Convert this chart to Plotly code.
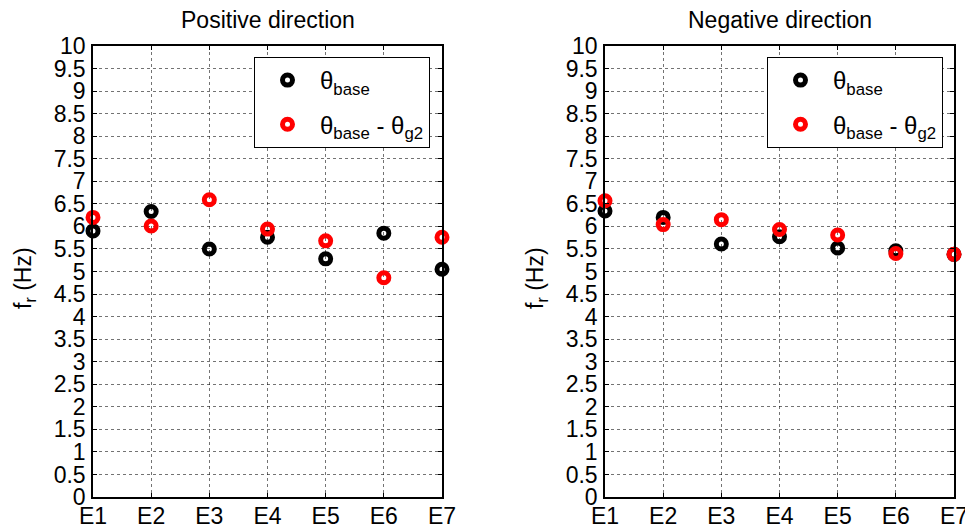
import plotly.graph_objects as go

categories = ["E1", "E2", "E3", "E4", "E5", "E6", "E7"]
cat_pos = [1, 2, 3, 4, 5, 6, 7]

# Resonance frequency f_r (Hz), positive direction
pos_base = [5.90, 6.33, 5.50, 5.76, 5.28, 5.85, 5.05]
pos_base_g2 = [6.20, 6.01, 6.59, 5.94, 5.68, 4.86, 5.76]

# Resonance frequency f_r (Hz), negative direction
neg_base = [6.34, 6.20, 5.61, 5.77, 5.52, 5.46, 5.38]
neg_base_g2 = [6.57, 6.04, 6.15, 5.93, 5.81, 5.40, 5.38]

y_ticks = [i * 0.5 for i in range(21)]
y_labels = [("%g" % v) for v in y_ticks]

FONT = "Liberation Sans, Arial, sans-serif"
FS = 23
W, H = 965, 527

fig = go.Figure()

def add_pair(base, base_g2, xa, ya, leg):
    fig.add_trace(go.Scatter(
        x=cat_pos, y=base, mode="markers", name="θ<sub>base</sub>",
        xaxis=xa, yaxis=ya, legend=leg, legendgroup=leg + "a",
        marker=dict(symbol="circle-open", size=10, color="black",
                    line=dict(width=5, color="black")),
        cliponaxis=False,
    ))
    fig.add_trace(go.Scatter(
        x=cat_pos, y=base_g2, mode="markers", name="θ<sub>base</sub> - θ<sub>g2</sub>",
        xaxis=xa, yaxis=ya, legend=leg, legendgroup=leg + "b",
        marker=dict(symbol="circle-open", size=10, color="red",
                    line=dict(width=5, color="red")),
        cliponaxis=False,
    ))

add_pair(pos_base, pos_base_g2, "x", "y", "legend")
add_pair(neg_base, neg_base_g2, "x2", "y2", "legend2")

ydom = [1 - 497 / H, 1 - 46 / H]

axis_common = dict(
    showline=True, linecolor="black", linewidth=1.5, mirror="ticks",
    ticks="inside", ticklen=4, tickcolor="black",
    showgrid=True, gridcolor="rgba(0,0,0,0.55)", gridwidth=1, griddash="dot",
    zeroline=False, automargin=False, ticklabeloverflow="allow",
    tickfont=dict(family=FONT, size=FS, color="black"),
)

legend_common = dict(
    xanchor="left", yanchor="top",
    bgcolor="white", bordercolor="black", borderwidth=1,
    font=dict(family=FONT, size=24, color="black"),
    itemwidth=55, tracegroupgap=10,
)

fig.update_layout(
    width=W, height=H,
    margin=dict(l=0, r=0, t=0, b=0, autoexpand=False),
    paper_bgcolor="white", plot_bgcolor="white",
    font=dict(family=FONT, color="black"),
    xaxis=dict(domain=[93 / W, 442 / W], range=[1, 7], tickvals=cat_pos,
               ticktext=categories, anchor="y", ticklabelstandoff=-2, **axis_common),
    yaxis=dict(domain=ydom, range=[0, 10], tickvals=y_ticks, ticktext=y_labels,
               anchor="x", ticklabelstandoff=1, **axis_common),
    xaxis2=dict(domain=[605 / W, 954 / W], range=[1, 7], tickvals=cat_pos,
                ticktext=categories, anchor="y2", ticklabelstandoff=-2, **axis_common),
    yaxis2=dict(domain=ydom, range=[0, 10], tickvals=y_ticks, ticktext=y_labels,
                anchor="x2", ticklabelstandoff=1, **axis_common),
    legend=dict(x=254 / W, y=1 - 57 / H, **legend_common),
    legend2=dict(x=767 / W, y=1 - 57 / H, **legend_common),
    showlegend=True,
)

for cx, text in [((93 + 442) / 2, "Positive direction"), ((605 + 954) / 2, "Negative direction")]:
    fig.add_annotation(x=cx / W, y=1 - 20 / H, xref="paper", yref="paper",
                       xanchor="center", yanchor="middle",
                       text=text, showarrow=False,
                       font=dict(family=FONT, size=FS, color="black"))

for lx in [24, 536]:
    fig.add_annotation(x=lx / W, y=1 - 278 / H, xref="paper", yref="paper",
                       xanchor="center", yanchor="middle",
                       text="f<sub>r</sub> (Hz)", textangle=-90, showarrow=False,
                       font=dict(family=FONT, size=FS, color="black"))

fig.write_html("out.html")
